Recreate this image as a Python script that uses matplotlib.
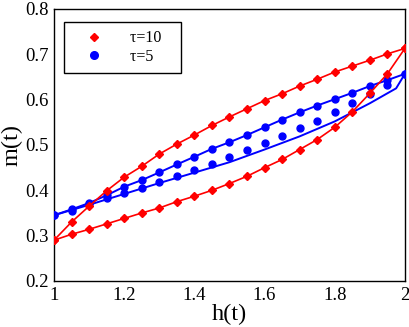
import matplotlib
matplotlib.use("Agg")
import matplotlib.pyplot as plt

h = [1.00, 1.05, 1.10, 1.15, 1.20, 1.25, 1.30, 1.35, 1.40, 1.45, 1.50,
     1.55, 1.60, 1.65, 1.70, 1.75, 1.80, 1.85, 1.90, 1.95, 2.00]

red_lower = [0.290, 0.303, 0.314, 0.326, 0.338, 0.350, 0.361, 0.375, 0.387, 0.400, 0.415,
             0.431, 0.450, 0.468, 0.490, 0.512, 0.539, 0.573, 0.614, 0.657, 0.713]
red_upper = [0.290, 0.330, 0.365, 0.399, 0.429, 0.453, 0.480, 0.502, 0.522, 0.543, 0.562,
             0.580, 0.598, 0.613, 0.630, 0.645, 0.661, 0.674, 0.687, 0.701, 0.713]

blue_upper = [0.345, 0.358, 0.372, 0.389, 0.408, 0.4225, 0.4395, 0.457, 0.474, 0.4915, 0.506,
              0.522, 0.539, 0.556, 0.572, 0.587, 0.601, 0.615, 0.630, 0.643, 0.657]
blue_lower = [0.345, 0.354, 0.3695, 0.382, 0.3945, 0.406, 0.419, 0.432, 0.4445, 0.459, 0.474,
              0.489, 0.505, 0.520, 0.537, 0.553, 0.573, 0.592, 0.612, 0.632, 0.657]

blue_line_h_lower = [1.0, 1.1, 1.2, 1.3, 1.4, 1.5, 1.6, 1.7, 1.8, 1.9, 1.975, 2.0]
blue_line_m_lower = [0.345, 0.368, 0.392, 0.416, 0.439, 0.462, 0.490, 0.519, 0.552, 0.592, 0.625, 0.657]

xticks = [1, 1.2, 1.4, 1.6, 1.8, 2]
xticklabels = ["1", "1.2", "1.4", "1.6", "1.8", "2"]
yticks = [0.2, 0.3, 0.4, 0.5, 0.6, 0.7, 0.8]
yticklabels = ["0.2", "0.3", "0.4", "0.5", "0.6", "0.7", "0.8"]
legend_labels = ['\u03c4=10   ', '\u03c4=5   ']

plt.rcParams['font.family'] = ['Liberation Serif', 'DejaVu Serif']

fig = plt.figure(figsize=(4.09, 3.27), dpi=100)
ax = fig.add_axes([0.132, 0.1407, 0.858, 0.8318])

blue = '#0000ff'
red = '#ff0000'

# blue line (loop)
ax.plot(h, blue_upper, color=blue, lw=1.4, zorder=2)
ax.plot(blue_line_h_lower, blue_line_m_lower, color=blue, lw=1.4, zorder=2)
# blue markers
ax.plot(h, blue_upper, 'o', color=blue, ms=5, mec=blue, zorder=3)
ax.plot(h, blue_lower, 'o', color=blue, ms=5, mec=blue, zorder=3)

# red loop with diamonds
ax.plot(h, red_lower, '-D', color=red, lw=1.2, ms=3.6, zorder=4)
ax.plot(h, red_upper, '-D', color=red, lw=1.2, ms=3.6, zorder=4)

ax.set_xlim(1, 2)
ax.set_ylim(0.2, 0.8)
ax.set_xticks(xticks)
ax.set_xticklabels(xticklabels)
ax.set_yticks(yticks)
ax.set_yticklabels(yticklabels)
ax.tick_params(length=0, labelsize=13.5, pad=4)
for s in ax.spines.values():
    s.set_linewidth(1.0)

ax.set_xlabel('h(t)', fontsize=17.5, labelpad=0)
ax.set_ylabel('m(t)', fontsize=17.5, labelpad=2)

h1, = ax.plot([], [], 'D', color=red, ms=4, linestyle='none')
h2, = ax.plot([], [], 'o', color=blue, ms=5.5, linestyle='none')
leg = ax.legend([h1, h2], legend_labels, loc='upper left',
                bbox_to_anchor=(0.028, 0.951), fontsize=11.5, frameon=True,
                fancybox=False, edgecolor='black', framealpha=1,
                handlelength=2.8, handletextpad=0.85, borderpad=0.5,
                labelspacing=0.15, borderaxespad=0)
leg.get_frame().set_linewidth(1.0)

fig.savefig('out.png', dpi=100)
